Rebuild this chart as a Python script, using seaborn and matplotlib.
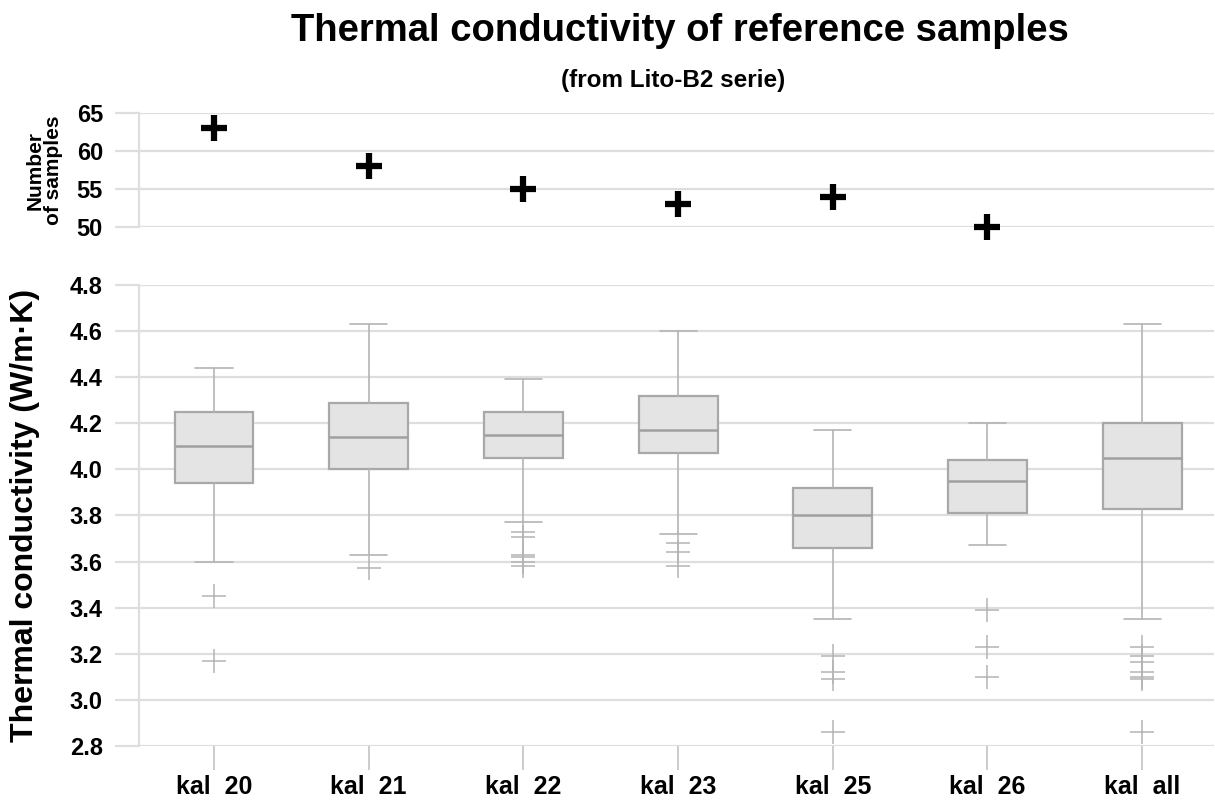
import matplotlib
matplotlib.use('Agg')
import matplotlib.pyplot as plt
import seaborn as sns
import pandas as pd

# sample groups
groups = ['kal  20', 'kal  21', 'kal  22', 'kal  23', 'kal  25', 'kal  26', 'kal  all']

# number of samples per group (no count shown for "kal all")
n_groups = ['kal  20', 'kal  21', 'kal  22', 'kal  23', 'kal  25', 'kal  26']
n_samples = [63, 58, 55, 53, 54, 50]

# box statistics
whis_hi = [4.44, 4.63, 4.39, 4.60, 4.17, 4.20, 4.63]
q3 = [4.25, 4.29, 4.25, 4.32, 3.92, 4.04, 4.20]
median = [4.10, 4.14, 4.15, 4.17, 3.80, 3.95, 4.05]
q1 = [3.94, 4.00, 4.05, 4.07, 3.66, 3.81, 3.83]
whis_lo = [3.60, 3.63, 3.77, 3.72, 3.35, 3.67, 3.35]
outliers = [
    [3.45, 3.17],
    [3.57],
    [3.73, 3.705, 3.63, 3.62, 3.60, 3.58],
    [3.68, 3.64, 3.58],
    [3.19, 3.12, 3.09, 2.86],
    [3.39, 3.23, 3.10],
    [3.23, 3.19, 3.165, 3.12, 3.10, 3.09, 2.86],
]

sns.set_theme(style='white')
plt.rcParams['font.family'] = ['Liberation Sans', 'DejaVu Sans']
plt.rcParams['font.weight'] = 'bold'
plt.rcParams['text.color'] = 'black'
plt.rcParams['axes.labelcolor'] = 'black'

grid_c = '#dedede'
box_c = '#a8a8a8'

fig = plt.figure(figsize=(12.15, 8.05), dpi=100)
ax_n = fig.add_axes([0.1144, 0.718, 0.885, 0.1415])
ax = fig.add_axes([0.1144, 0.0733, 0.885, 0.5727])

xlim = (-0.485, 6.466)

# top panel: number of samples
df_n = pd.DataFrame({'group': n_groups, 'n': n_samples})
sns.scatterplot(data=df_n, x='group', y='n', ax=ax_n, marker='+', s=360,
                color='black', linewidth=4.5, zorder=3, clip_on=False)
ax_n.set_xlim(xlim)
ax_n.set_ylim(50, 65)
ax_n.set_yticks([50, 55, 60, 65])
ax_n.set_xticks([])
ax_n.set_xlabel('')
ax_n.set_ylabel('Number\nof samples', fontsize=15, fontweight='bold', linespacing=0.95)
ax_n.yaxis.set_label_coords(-0.071, 0.5)

# bottom panel: box plots
stats = []
for i, g in enumerate(groups):
    stats.append({'label': g, 'med': median[i], 'q1': q1[i], 'q3': q3[i],
                  'whislo': whis_lo[i], 'whishi': whis_hi[i], 'fliers': outliers[i]})

ax.bxp(stats, positions=range(len(groups)), widths=0.51, patch_artist=True,
       showfliers=True, capwidths=0.24,
       boxprops=dict(facecolor='#e4e4e4', edgecolor=box_c, linewidth=1.6),
       medianprops=dict(color='#a0a0a0', linewidth=1.8),
       whiskerprops=dict(color='#b4b4b4', linewidth=1.2),
       capprops=dict(color='#b4b4b4', linewidth=1.2),
       flierprops=dict(marker='+', markersize=17, markeredgecolor='#b4b4b4',
                       markeredgewidth=1.1))
ax.set_xlim(xlim)
ax.set_ylim(2.8, 4.8)
ax.set_yticks([2.8, 3.0, 3.2, 3.4, 3.6, 3.8, 4.0, 4.2, 4.4, 4.6, 4.8])
ax.set_yticklabels(['%.1f' % v for v in ax.get_yticks()])
ax.set_xticks(range(len(groups)))
ax.set_xticklabels(groups)
ax.set_ylabel('Thermal conductivity (W/m·K)', fontsize=23, fontweight='bold')
ax.yaxis.set_label_coords(-0.092, 0.5)

for a in (ax_n, ax):
    a.grid(axis='y', color=grid_c, linewidth=1.6)
    a.set_axisbelow(True)
    for s in ['top', 'right', 'bottom']:
        a.spines[s].set_visible(False)
    a.spines['left'].set_color(grid_c)
    a.spines['left'].set_linewidth(1.6)
    a.tick_params(axis='y', length=17, width=1.6, color=grid_c, pad=9,
                  labelsize=17, labelcolor='black', left=True)
    for lab in a.get_yticklabels():
        lab.set_fontweight('bold')

ax.tick_params(axis='x', length=17, width=1.3, color='#c8c8c8', pad=4,
               labelsize=18, labelcolor='black', bottom=True, direction='out')
for lab in ax.get_xticklabels():
    lab.set_fontweight('bold')

fig.text(0.56, 0.962, 'Thermal conductivity of reference samples',
         ha='center', va='center', fontsize=27.5, fontweight='bold')
fig.text(0.554, 0.90, '(from Lito-B2 serie)', ha='center', va='center',
         fontsize=17.5, fontweight='bold')

fig.savefig('out.png', dpi=100)
